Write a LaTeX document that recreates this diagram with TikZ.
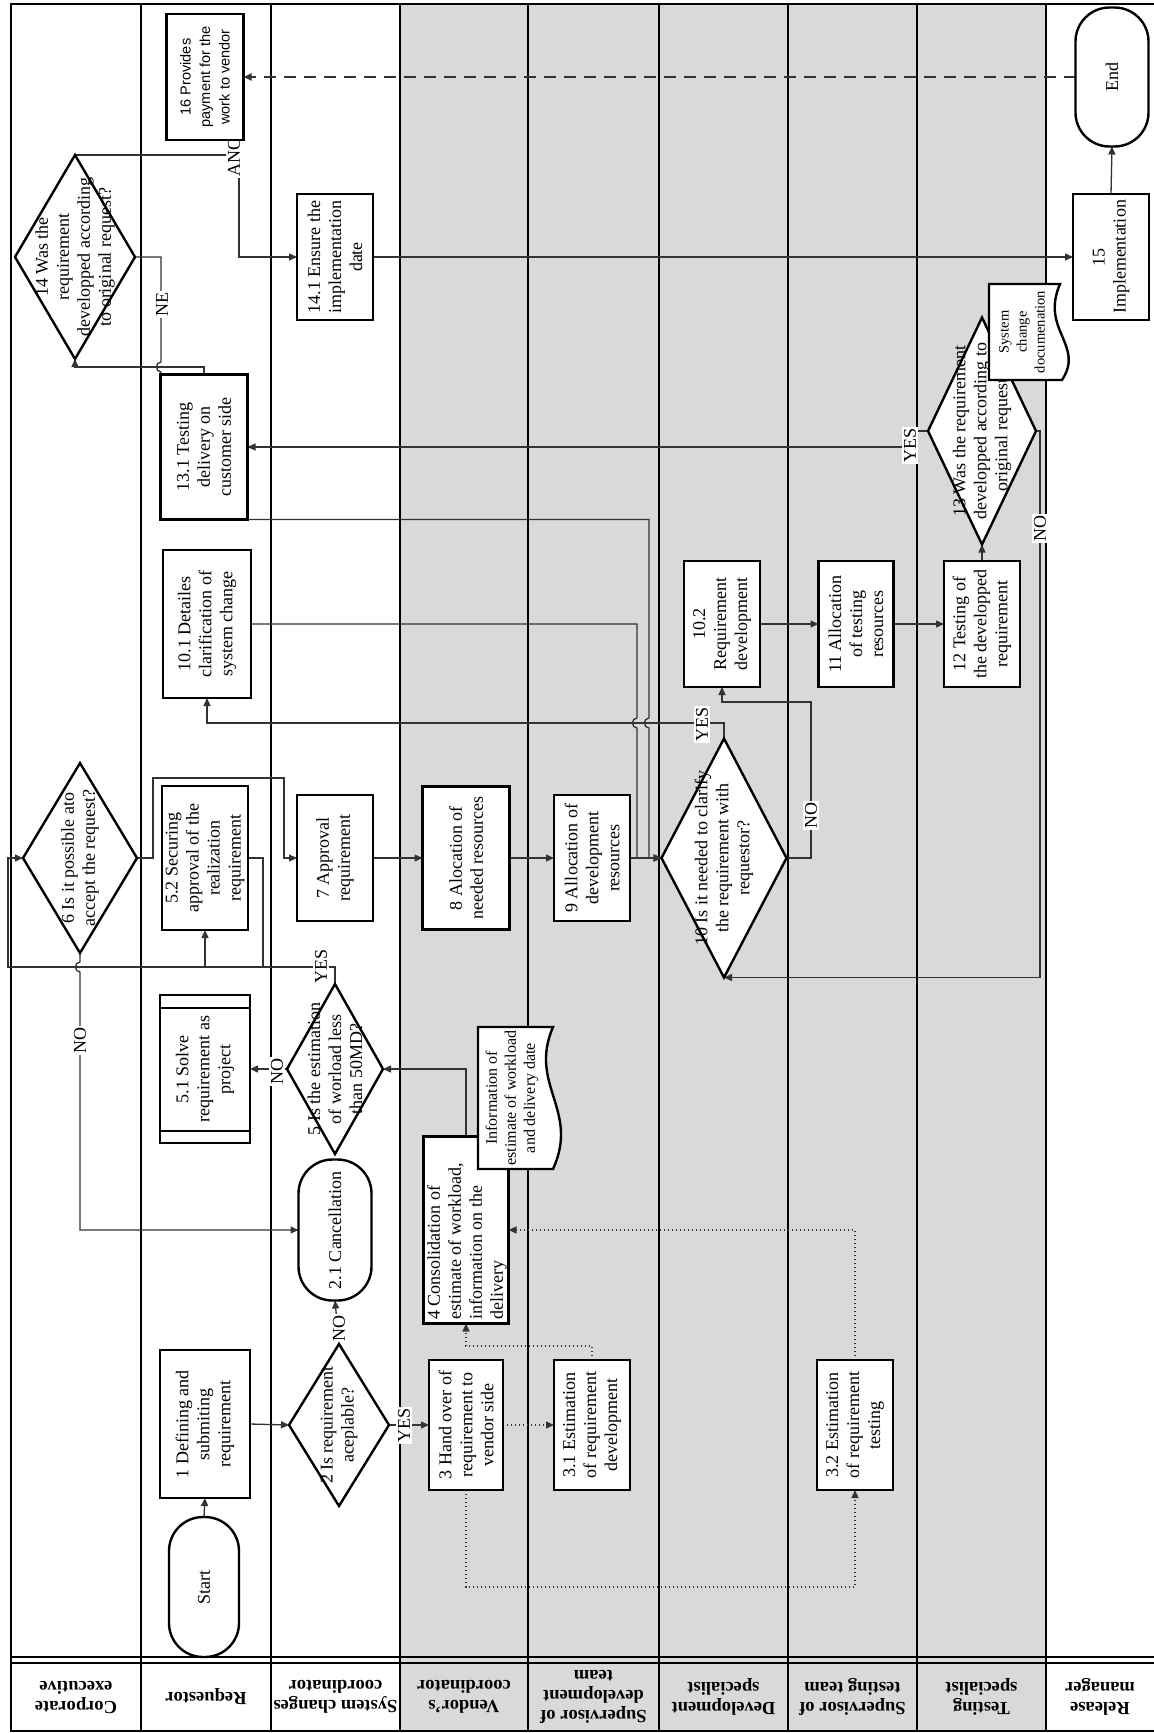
\documentclass[tikz,border=0pt]{standalone}
\usepackage{fontspec}
\setmainfont{Liberation Serif}
\newfontfamily\paysans{Liberation Sans}
\usetikzlibrary{shapes.geometric,arrows.meta}
\pgfdeclarelayer{bg}\pgfdeclarelayer{conn}\pgfdeclarelayer{lab}
\pgfsetlayers{bg,conn,lab,main}
\newcommand\nodefont{\fontsize{18}{21}\selectfont}
\newcommand\docfont{\fontsize{14.5}{18}\selectfont}
\newcommand\docbigfont{\fontsize{16}{19}\selectfont}
\newcommand\payfont{\paysans\fontsize{14.5}{19.5}\selectfont}
\newcommand\hdrfont{\bfseries\fontsize{18.5}{20}\selectfont}
\begin{document}
\begin{tikzpicture}[x=1pt,y=-1pt,
  box/.style={draw=black,line width=2.4pt,fill=white,inner sep=0pt,outer sep=0pt},
  term/.style={box,rounded corners=34pt},
  dia/.style={box,diamond},
  txt/.style={rotate=90,align=center,inner sep=0pt,font=\nodefont},
  lab/.style={rotate=90,fill=white,inner sep=1.5pt,font=\nodefont},
  conn/.style={draw=black!80,line width=1.3pt},
  arr/.style={conn,-{Triangle[length=8pt,width=7pt]}},
  dotl/.style={arr,dash pattern=on 1.3pt off 2.7pt},
  dashl/.style={arr,line width=2pt,dash pattern=on 12pt off 8pt},
  lane/.style={draw=black,line width=2.6pt},
  hdr/.style={rotate=180,align=center,font=\hdrfont}]
\useasboundingbox (0,0) rectangle (1154,1733);
% ---------- lanes ----------
\begin{pgfonlayer}{bg}
\fill[white] (0,0) rectangle (1154,1733);
\fill[black!15] (400,4) rectangle (1046,1731);
\foreach \x in {11,141,271,400,528,659,788,917,1046} \draw[lane] (\x,4) -- (\x,1731);
\draw[lane] (10,4) -- (1154,4);
\draw[lane] (10,1731) -- (1154,1731);
\draw[line width=1.8pt] (10,1657) -- (1154,1657);
\draw[line width=1.8pt] (10,1663) -- (1154,1663);
\node[hdr] (h1) at (76,1697) {Corporate\\executive};
\node[hdr] (h2) at (206,1697) {Requestor};
\node[hdr] (h3) at (335.5,1697) {System changes\\coordinator};
\node[hdr] (h4) at (464,1697) {Vendor’s\\coordinator};
\node[hdr] (h5) at (593.5,1697) {Supervisor of\\development\\team};
\node[hdr] (h6) at (723.5,1697) {Development\\specialist};
\node[hdr] (h7) at (852.5,1697) {Supervisor of\\testing team};
\node[hdr] (h8) at (981.5,1697) {Testing\\specialist};
\node[hdr] (h9) at (1100,1697) {Release\\manager};
\end{pgfonlayer}
% ---------- nodes ----------
\node[term,minimum width=70pt,minimum height=140pt] (start) at (204,1587) {};
\node[txt] (startt) at (start) {Start};
\node[box,minimum width=90pt,minimum height=148pt] (n1) at (205,1424) {};
\node[txt] (n1t) at (n1) {1 Defining and\\submiting\\requirement};
\node[dia,minimum width=100pt,minimum height=162pt] (d2) at (339,1425) {};
\node[txt] (d2t) at (d2) {2 Is requirement\\aceplable?};
\node[term,minimum width=73pt,minimum height=141pt] (c21) at (335,1230) {};
\node[txt] (c21t) at (c21) {2.1 Cancellation};
\node[box,minimum width=74pt,minimum height=130pt] (n3) at (466,1425) {};
\node[txt] (n3t) at (n3) {3 Hand over of\\requirement to\\vendor side};
\node[box,minimum width=76pt,minimum height=130pt] (n31) at (592,1425) {};
\node[txt] (n31t) at (n31) {3.1 Estimation\\of requirement\\development};
\node[box,minimum width=76pt,minimum height=130pt] (n32) at (855,1425) {};
\node[txt] (n32t) at (n32) {3.2 Estimation\\of requirement\\testing};
\node[box,minimum width=85pt,minimum height=187pt] (n4) at (466,1230) {};
\node[txt,align=left,anchor=north west] (n4t) at (427,1320) {4 Consolidation of\\estimate of workload,\\information on the\\delivery};
\draw[box] (478,1027) -- (553,1027) .. controls (528,1085) and (580,1110) .. (553,1169) -- (478,1169) -- cycle;
\node[txt,font=\docbigfont] (doc1t) at (512,1098) {Information of\\estimate of workload\\and delivery date};
\node[dia,minimum width=96pt,minimum height=170pt] (d5) at (335,1069) {};
\node[txt] (d5t) at (d5) {5 Is the estimation\\of worload less\\than 50MD?};
\node[box,minimum width=90pt,minimum height=148pt] (n51) at (205,1069) {};
\draw[line width=2.4pt] (160,1008) -- (250,1008) (160,1131) -- (250,1131);
\node[txt] (n51t) at (n51) {5.1 Solve\\requirement as\\project};
\node[box,minimum width=86pt,minimum height=144pt] (n52) at (205,858) {};
\node[txt] (n52t) at (n52) {5.2 Securing\\approval of the\\realization\\requirement};
\node[dia,minimum width=114pt,minimum height=190pt] (d6) at (80,858) {};
\node[txt] (d6t) at (d6) {6 Is it possible ato\\accept the request?};
\node[box,minimum width=76pt,minimum height=126pt] (n7) at (335,858) {};
\node[txt] (n7t) at (n7) {7 Approval\\requirement};
\node[box,minimum width=87pt,minimum height=143pt] (n8) at (466,858) {};
\node[txt] (n8t) at (n8) {8 Alocation of\\needed resources};
\node[box,minimum width=76pt,minimum height=126pt] (n9) at (592,858) {};
\node[txt] (n9t) at (n9) {9 Allocation of\\development\\resources};
\node[dia,minimum width=125pt,minimum height=239pt] (d10) at (724,858) {};
\node[txt] (d10t) at (d10) {10 Is it needed to clarify\\the requirement with\\requestor?};
\node[box,minimum width=88pt,minimum height=148pt] (n101) at (207,624) {};
\node[txt] (n101t) at (n101) {10.1 Detailes\\clarification of\\system change};
\node[box,minimum width=76pt,minimum height=126pt] (n102) at (722,624) {};
\node[txt] (n102t) at (n102) {10.2\\Requirement\\development};
\node[box,minimum width=75pt,minimum height=126pt] (n11) at (856,624) {};
\node[txt] (n11t) at (n11) {11 Allocation\\of testing\\resources};
\node[box,minimum width=76pt,minimum height=126pt] (n12) at (982,624) {};
\node[txt] (n12t) at (n12) {12 Testing of\\the developped\\requirement};
\node[dia,minimum width=108pt,minimum height=227pt] (d13) at (982,431) {};
\node[txt] (d13t) at (d13) {13 Was the requirement\\developped according to\\original request?};
\draw[box] (989,284) -- (1060,284) .. controls (1040,330) and (1085,345) .. (1062,380) -- (989,380) -- cycle;
\node[txt,font=\docfont] (doc2t) at (1022,332) {System\\change\\documenation};
\node[box,minimum width=87pt,minimum height=145pt] (n131) at (204,447) {};
\node[txt] (n131t) at (n131) {13.1 Testing\\delivery on\\customer side};
\node[dia,minimum width=120pt,minimum height=204pt] (d14) at (75,257) {};
\node[txt] (d14t) at (d14) {14 Was the\\requirement\\developped according\\to original request?};
\node[box,minimum width=76pt,minimum height=126pt] (n141) at (335,257) {};
\node[txt] (n141t) at (n141) {14.1 Ensure the\\implementation\\date};
\node[box,minimum width=76pt,minimum height=126pt] (n15) at (1111,257) {};
\node[txt] (n15t) at (n15) {15\\Implementation};
\node[box,minimum width=77pt,minimum height=126pt] (n16) at (205,77) {};
\node[txt,font=\payfont] (n16t) at (n16) {16 Provides\\payment for the\\work to vendor};
\node[term,minimum width=73pt,minimum height=139pt] (end) at (1112,77) {};
\node[txt] (endt) at (end) {End};
% ---------- labels ----------
\begin{pgfonlayer}{lab}
\node[lab] (yes2) at (404,1425) {YES};
\node[lab] (no2) at (339,1328) {NO};
\node[lab] (no5) at (277,1071) {NO};
\node[lab] (yes5) at (321,966) {YES};
\node[lab] (no6) at (80,1040) {NO};
\node[lab] (yes10) at (702,724) {YES};
\node[lab] (no10) at (811,815) {NO};
\node[lab] (yes13) at (910,445) {YES};
\node[lab] (no13) at (1040,528) {NO};
\node[lab] (ne14) at (162,304) {NE};
\node[lab] (ano14) at (234,157) {ANO};
\end{pgfonlayer}
% ---------- connectors ----------
\begin{pgfonlayer}{conn}
\draw[arr] (start.north) -- (n1.south);
\draw[arr] (n1.east) -- (d2.west);
\draw[arr] (d2.north) -- (c21.south);
\draw[arr] (d2.east) -- (n3.west);
\draw[dotl] (n3.east) -- (n31.west);
\draw[dotl] (n3.south) -- (466,1587) -- (855,1587) -- (n32.south);
\draw[dotl] (n31.north) -- (592,1346) -- (466,1346) -- (n4.south);
\draw[dotl] (n32.north) -- (855,1230) -- (n4.east);
\draw[arr] (n4.north) -- (466,1069) -- (d5.east);
\draw[arr] (d5.west) -- (n51.east);
\draw[arr] (d5.north) -- (335,967) -- (205,967) -- (n52.south);
\draw[arr] (n52.east) -- (263,858) -- (263,967) -- (8,967) -- (8,858) -- (d6.west);
\draw[arr] (d6.south) -- (80,962) .. controls (74,962) and (74,972) .. (80,972) -- (80,1230) -- (c21.west);
\draw[arr] (d6.east) -- (153,858) -- (153,778) -- (284,778) -- (284,858) -- (n7.west);
\draw[arr] (n7.east) -- (n8.west);
\draw[arr] (n8.east) -- (n9.west);
\draw[arr] (n9.east) -- (d10.west);
\draw[arr] (n101.east) -- (637,624) -- (637,718) .. controls (631,718) and (631,728) .. (637,728) -- (637,858) -- (d10.west);
\draw[arr] (n131.south east) -- (649,519.5) -- (649,718) .. controls (643,718) and (643,728) .. (649,728) -- (649,858) -- (d10.west);
\draw[arr] (d10.north) -- (724,723) -- (207,723) -- (n101.south);
\draw[arr] (d10.east) -- (811,858) -- (811,702) -- (722,702) -- (n102.south);
\draw[arr] (n102.east) -- (n11.west);
\draw[arr] (n11.east) -- (n12.west);
\draw[arr] (n12.north) -- (d13.south);
\draw[arr] (d13.west) -- (915,431) |- (n131.east);
\draw[arr] (d13.east) -- (1040,431) |- (d10.south);
\draw[arr] (n131.north) -- (204,367) -- (75,367) -- (d14.south);
\draw[conn] (d14.east) -- (161,257) -- (161,362) .. controls (155,362) and (155,372) .. (161,372) -- (161,374.5);
\draw[arr] (d14.north) -- (239,155) -- (239,257) -- (n141.west);
\draw[arr] (n141.east) -- (n15.west);
\draw[arr] (n15.north) -- (end.south);
\draw[dashl] (end.west) -- (n16.east);
\end{pgfonlayer}
\end{tikzpicture}
\end{document}
